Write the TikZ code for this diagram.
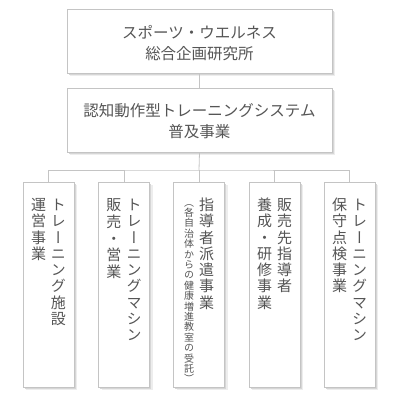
\documentclass[tikz,border=0pt]{standalone}
\usepackage{fontspec}
\usetikzlibrary{shadows}
\newfontfamily\cjk{Noto Sans CJK JP}
\newfontfamily\cjkv{Noto Sans CJK JP}[RawFeature=+vert]
\definecolor{txtgray}{HTML}{555555}
\definecolor{boxgray}{HTML}{C4C4C4}
\definecolor{linegray}{HTML}{C4C4C4}
\ExplSyntaxOn
\NewDocumentCommand \Vcol { m m }
 {
  \vbox:n
   {
    \offinterlineskip
    \tl_map_inline:nn {#2}
     {
      \hbox_to_wd:nn {1em} { \hss \vrule ~ width ~ 0pt ~ height ~ 0.88em ~ depth ~ 0.12em \relax ##1 \hss }
      \skip_vertical:n {#1 - 1em}
     }
   }
 }
\ExplSyntaxOff
\tikzset{
  orgbox/.style={draw=boxgray, fill=white, line width=0.8pt, inner sep=0pt,
    drop shadow={shadow xshift=3pt, shadow yshift=-3pt, fill=black!7, opacity=1},
    drop shadow={shadow xshift=1.6pt, shadow yshift=-1.6pt, fill=black!16, opacity=1}},
  toptext/.style={text=txtgray, font=\cjk\fontsize{15.5}{20.5}\selectfont, align=center},
  vtext/.style={text=txtgray, font=\cjkv\fontsize{15}{16}\selectfont, inner sep=0pt, anchor=north},
  vsmall/.style={text=txtgray, font=\cjkv\fontsize{10}{10.5}\selectfont, inner sep=0pt, anchor=north},
  conn/.style={draw=linegray, line width=0.8pt}
}
\begin{document}
\begin{tikzpicture}[x=1pt,y=-1pt]
\useasboundingbox (0,0) rectangle (400,400);
% top boxes
\node[orgbox, minimum width=265pt, minimum height=64pt] (t1) at (199.5,41) {};
\node[toptext] (t1txt) at (199.5,43) {スポーツ・ウエルネス\\総合企画研究所};
\node[orgbox, minimum width=265pt, minimum height=64pt] (t2) at (199.5,120) {};
\node[toptext] (t2txt) at (199.5,121) {認知動作型トレーニングシステム\\普及事業};
% bottom boxes
\node[orgbox, minimum width=51pt, minimum height=205pt, anchor=north] (b1) at (48.5,182) {};
\node[orgbox, minimum width=51pt, minimum height=205pt, anchor=north] (b2) at (124,182) {};
\node[orgbox, minimum width=51pt, minimum height=205pt, anchor=north] (b3) at (199,182) {};
\node[orgbox, minimum width=51pt, minimum height=205pt, anchor=north] (b4) at (274.5,182) {};
\node[orgbox, minimum width=51pt, minimum height=205pt, anchor=north] (b5) at (349.5,182) {};
% connectors
\coordinate (bus) at (199,170);
\draw[conn] (t1.south) -- (t2.north);
\draw[conn] (t2.south) -- (bus);
\draw[conn] (b1.north) |- (bus) -| (b5.north);
\draw[conn] (b2.north) -- (b2.north |- bus);
\draw[conn] (b3.north) -- (bus);
\draw[conn] (b4.north) -- (b4.north |- bus);
% vertical texts
\node[vtext] (b1r) at (58.5,197) {\Vcol{16.3pt}{トレーニング施設}};
\node[vtext] (b1l) at (38.5,197) {\Vcol{16.3pt}{運営事業}};
\node[vtext] (b2r) at (134,197) {\Vcol{16.3pt}{トレーニングマシン}};
\node[vtext] (b2l) at (114,197) {\Vcol{16.8pt}{販売・営業}};
\node[vtext] (b3r) at (206.5,197) {\Vcol{16.3pt}{指導者派遣事業}};
\node[vsmall] (b3l) at (189,197) {\Vcol{10.4pt}{（各自治体からの健康増進教室の受託）}};
\node[vtext] (b4r) at (284.5,197) {\Vcol{16.3pt}{販売先指導者}};
\node[vtext] (b4l) at (264.5,197) {\Vcol{16.3pt}{養成・研修事業}};
\node[vtext] (b5r) at (359.5,197) {\Vcol{16.3pt}{トレーニングマシン}};
\node[vtext] (b5l) at (339.5,197) {\Vcol{16.3pt}{保守点検事業}};
\end{tikzpicture}
\end{document}
